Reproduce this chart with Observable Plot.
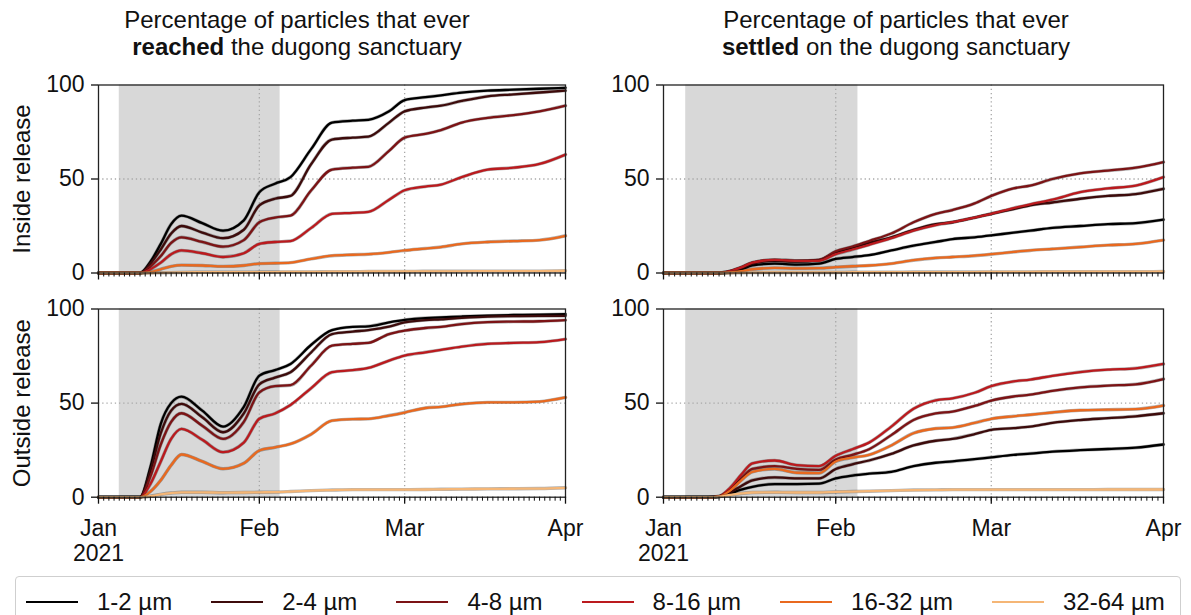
<!DOCTYPE html>
<html>
<head>
<meta charset="utf-8">
<script src="https://cdn.jsdelivr.net/npm/d3@7"></script>
<script src="https://cdn.jsdelivr.net/npm/@observablehq/plot@0.6"></script>
<style>
  html, body { margin: 0; padding: 0; background: #fff; }
  #root { position: relative; width: 1191px; height: 615px; overflow: hidden; font-family: "Liberation Sans", Arial, sans-serif; color: #111; }
  .title { position: absolute; top: 6px; width: 600px; text-align: center; font-size: 24px; line-height: 27px; }
  .panel { position: absolute; }
  #legend { position: absolute; left: 15px; top: 576px; width: 1166px; height: 52px; border: 1px solid #cfcfcf; border-radius: 4px; box-sizing: border-box; display: flex; align-items: center; padding-left: 10px; font-size: 24px; white-space: nowrap; }
  .item { display: flex; align-items: center; margin-right: 39px; white-space: nowrap; flex: none; }
  .swatch { width: 52px; height: 0; border-top: 2.6px solid; margin-right: 19px; }
</style>
</head>
<body>
<div id="root">
  <div class="title" style="left:-3px">Percentage of particles that ever<br><b>reached</b> the dugong sanctuary</div>
  <div class="title" style="left:596px">Percentage of particles that ever<br><b>settled</b> on the dugong sanctuary</div>
  <div id="legend"></div>
</div>
<script>
// ---- data ----
const sizeClasses = ["1-2 µm", "2-4 µm", "4-8 µm", "8-16 µm", "16-32 µm", "32-64 µm"];
const classColors = ["#000000", "#3d0b0b", "#7c1315", "#bb1a1e", "#e9691f", "#f5b676"];
// days since 1 Jan 2021
const days = [0, 8, 10, 12, 14, 16, 20, 24, 28, 31, 34, 37, 41, 45, 49, 52, 56, 59, 63, 66, 70, 75, 80, 85, 90];
const monthLabels = ["Jan\n2021", "Feb", "Mar", "Apr"];
const rowLabels = ["Inside release", "Outside release"];
const bandDays = [4, 35];

// reached, inside release (one row per size class)
const reachedInside = [
  [0,0,6,15.5,26,30.5,26.5,22.5,28,43,47.5,51,66,80,81,81.5,86,92,93.5,94.5,96,97,97.5,98,98.5],
  [0,0,5,12.5,21,25,21.5,18.5,23,36,39.5,41,58,71,72,72.5,80,86,88,89,91.5,94,95,96,97],
  [0,0,3.5,9,16,19,16.5,14,17.5,27,29.5,30.5,44,55,56,56.5,65,72,74,76,80,82.5,84,86,89],
  [0,0,2,5.5,10,12,10.5,8.5,10.5,15.5,16.5,17,24,31.5,32,32.5,39,44,46,47,51,55,56,58,63],
  [0,0,0.5,2,3.5,4.2,4,3.5,4,5,5.2,5.5,7.5,9.2,9.7,10,11,12,13,13.8,15.5,16.5,17,17.5,19.8],
  [0,0,0,0.1,0.2,0.3,0.4,0.4,0.4,0.5,0.5,0.6,0.6,0.7,0.7,0.8,0.8,0.8,0.9,0.9,0.9,1,1,1,1.2]
];
// reached, outside release
const reachedOutside = [
  [0,0,16,39,50,53.4,46,37.5,48,64.6,67.5,70.8,81,88.8,90.5,90.8,92.9,94.2,95.2,95.5,96,96.5,96.8,97,97.3],
  [0,0,14,34,46,49.6,42.5,34.5,44.5,60,63.5,66.4,77,86.7,88,88.8,90.6,92.9,94.1,94.5,95.3,96,96.2,96.3,96.4],
  [0,0,11,28,40,44.6,38,31,40,55.7,59,59.5,70,80.5,81.5,82,86.7,88.5,89.9,90.5,92,93,93.3,93.5,94.1],
  [0,0,7,19,31,36.3,30.5,23.9,29,41.7,44.5,49,58,66.4,67.5,68.7,72.6,75.2,77,78.3,80,81.5,82,82.4,84],
  [0,0,3,9,17,22.7,19,15.1,18,24.8,26.5,28.3,33.5,40.7,41.5,41.6,43.4,45,47.4,48,49.5,50.4,50.4,50.8,53],
  [0,0,0.5,1.5,2.2,2.6,2.6,2.4,2.5,2.6,2.7,3,3.5,3.8,4,4,4,4,4.1,4.2,4.3,4.4,4.5,4.6,5]
];
// settled, inside release
const settledInside = [
  [0,0,0,0.5,2,4,5,4.5,5,7.5,8.5,9.5,12,14.5,16.5,18,19,20,21.5,22.5,24,25,26,26.5,28.4],
  [0,0,0,0.8,2.5,5,6.5,6,6.8,11,13.5,16,19,23,26,27,29.5,31.5,34,36,37.5,39.5,41,42,44.8],
  [0,0,0,1,3,5.5,7,6.5,7,11.5,14,17,21,27,31.5,33.5,37,41,45,46.5,50,53,54.5,56,59],
  [0,0,0,1,3,5.5,7,6.5,6.5,10,12.5,15,18.5,22.5,25.5,27,29.5,31.5,34.5,36.5,39,43,45,46.5,51],
  [0,0,0,0.3,1,2,2.7,2.5,2.6,3.1,3.6,4,5,6.8,8,8.5,9.2,10,11.2,12,12.8,13.8,14.8,15.5,17.5],
  [0,0,0,0,0.1,0.2,0.3,0.3,0.3,0.3,0.4,0.4,0.4,0.5,0.5,0.5,0.5,0.6,0.6,0.6,0.7,0.7,0.7,0.7,0.8]
];
// settled, outside release
const settledOutside = [
  [0,0,0.2,2,4,5.5,7,7,7.2,10,11.5,12.5,13.5,16.5,18.3,19,20.2,21.2,22.5,23.2,24.2,25,25.6,26.3,28],
  [0,0,0.3,2.5,6,9,10.5,10,10,15,17.5,19.5,23,27.5,30,31,33.5,35.8,36.7,37.5,39.5,41,42,43,44.6],
  [0,0,0.4,4,10,15,16.5,15,14.5,20,22.5,25.5,33,41,44.5,45.5,48.5,51.3,53.5,54.5,56.5,58.3,59.3,60,62.8],
  [0,0,0.5,5,12,18,19.5,17,16.5,22,25.5,29,37.5,47,51.5,52.5,55.5,59,61.5,62.5,64.5,66.5,67.8,68.5,70.8],
  [0,0,0.3,3.5,9,13.5,15,13,12.8,19,21,22.5,27.5,34,36.5,37,39.5,41.6,43,43.8,45,46.2,46.5,46.8,48.7],
  [0,0,0.3,1.2,2,2.5,2.6,2.5,2.5,2.8,3,3.2,3.5,3.8,3.9,4,4,4,4,4,4,4,4.1,4.1,4.1]
];

// ---- helpers ----
const t0 = Date.UTC(2021, 0, 1);
const dateOf = d => new Date(t0 + d * 864e5);
const monthTicks = [0, 31, 59, 90].map(dateOf);
const dayTicks = d3.range(0, 91).map(dateOf);
const FONT = '"Liberation Sans", Arial, sans-serif';

function rowsOf(panel) {
  const rows = [];
  panel.forEach((vals, i) => vals.forEach((v, j) => rows.push({date: dateOf(days[j]), v, cls: sizeClasses[i], i})));
  return rows;
}

function makePanel({panel, width, height, mL, mR, mT, mB, ylabel, showX}) {
  const rows = rowsOf(panel);
  const lines = [];
  sizeClasses.forEach((c, i) => {
    const sub = rows.filter(r => r.i === i);
    lines.push(Plot.line(sub, {x: "date", y: "v", stroke: "#000", strokeOpacity: 0.3, strokeWidth: 3.4, curve: "monotone-x"}));
    lines.push(Plot.line(sub, {x: "date", y: "v", stroke: classColors[i], strokeWidth: 2.3, curve: "monotone-x"}));
  });
  const marks = [
    Plot.rect([bandDays], {x1: d => dateOf(d[0]), x2: d => dateOf(d[1]), y1: 0, y2: 100, fill: "#d8d8d8"}),
    Plot.ruleY([50], {stroke: "#a8a8a8", strokeWidth: 1.3, strokeDasharray: "1.3,2.9"}),
    Plot.ruleX([monthTicks[1], monthTicks[2]], {stroke: "#a8a8a8", strokeWidth: 1.3, strokeDasharray: "1.3,2.9"}),
    ...lines,
    Plot.frame({stroke: "#222", strokeWidth: 1.3}),
    Plot.axisY({ticks: [0, 50, 100], tickSize: 7, tickPadding: 7, label: null, stroke: "#111", strokeWidth: 1.3}),
    Plot.axisX({ticks: dayTicks, tickSize: 4, tickFormat: () => "", label: null, stroke: "#111", strokeWidth: 1}),
    Plot.axisX({ticks: monthTicks, tickSize: 7, tickPadding: 14, label: null, stroke: "#111", strokeWidth: 1.3,
      tickFormat: showX ? (d => monthLabels[d.getUTCMonth()]) : () => "", lineHeight: 1.1})
  ];
  if (ylabel) marks.push(Plot.text([ylabel], {frameAnchor: "left", dx: -76, rotate: -90, textAnchor: "middle", lineAnchor: "middle", text: d => d, fontSize: 24, fill: "#111"}));
  return Plot.plot({
    width, height, marginLeft: mL, marginRight: mR, marginTop: mT, marginBottom: mB,
    x: {type: "utc", domain: [monthTicks[0], monthTicks[3]]},
    y: {domain: [0, 100]},
    style: {fontFamily: FONT, fontSize: "23px", color: "#111", background: "transparent", overflow: "visible"},
    marks
  });
}

const root = document.getElementById("root");
function place(svg, left, top) {
  svg.classList.add("panel");
  svg.style.left = left + "px";
  svg.style.top = top + "px";
  root.appendChild(svg);
}
place(makePanel({panel: reachedInside, width: 590, height: 225, mL: 98, mR: 25, mT: 24.5, mB: 12.5, ylabel: rowLabels[0], showX: false}), 0, 60);
place(makePanel({panel: settledInside, width: 601, height: 225, mL: 73, mR: 28, mT: 24.5, mB: 12.5, ylabel: null, showX: false}), 590, 60);
place(makePanel({panel: reachedOutside, width: 590, height: 285, mL: 98, mR: 25, mT: 23.5, mB: 73.3, ylabel: rowLabels[1], showX: true}), 0, 285);
place(makePanel({panel: settledOutside, width: 601, height: 285, mL: 73, mR: 28, mT: 23.5, mB: 73.3, ylabel: null, showX: true}), 590, 285);

// legend
const legend = document.getElementById("legend");
sizeClasses.forEach((c, i) => {
  const item = document.createElement("div");
  item.className = "item";
  const sw = document.createElement("div");
  sw.className = "swatch";
  sw.style.borderTopColor = classColors[i];
  const tx = document.createElement("span");
  tx.textContent = c;
  item.appendChild(sw); item.appendChild(tx);
  legend.appendChild(item);
});
</script>
</body>
</html>
